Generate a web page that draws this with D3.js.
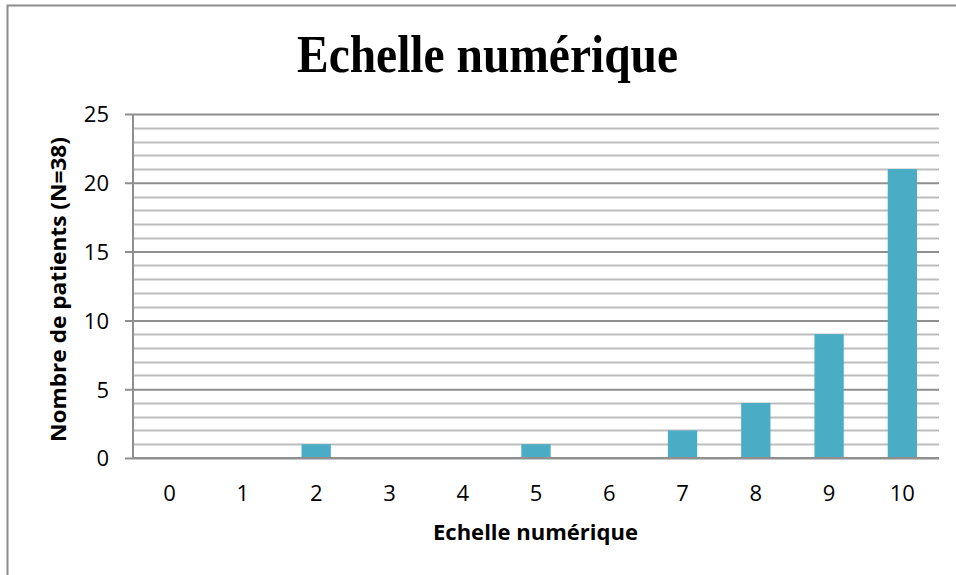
<!DOCTYPE html>
<html><head><meta charset="utf-8">
<script src="https://cdn.jsdelivr.net/npm/d3@7"></script>
<style>body{margin:0;background:#fff;} svg{display:block;}</style>
</head><body>
<svg id="chart" width="956" height="575"></svg>
<script>
const categories = ["0","1","2","3","4","5","6","7","8","9","10"];
const values = [0,0,1,0,0,1,0,2,4,9,21];
const yTicks = [0,5,10,15,20,25];
const title = "Echelle numérique";
const xTitle = "Echelle numérique";
const yTitle = "Nombre de patients (N=38)";

const svg = d3.select("#chart");
const W = 956, H = 575;
const m = {left:133, right:17, top:114, bottom:117};
const iw = W - m.left - m.right, ih = H - m.top - m.bottom;

// outer frame
svg.append("rect").attr("x",7.5).attr("y",5.5).attr("width",W+10).attr("height",H+10)
  .attr("fill","none").attr("stroke","#8c8c8c").attr("stroke-width",2);

const x = d3.scaleBand().domain(categories).range([m.left, m.left+iw]).paddingInner(0.6).paddingOuter(0.3);
const y = d3.scaleLinear().domain([0,25]).range([m.top+ih, m.top]);

// minor gridlines
const minor = d3.range(0,26,1).filter(v=>v%5!==0);
svg.append("g").selectAll("line").data(minor).join("line")
  .attr("x1",m.left).attr("x2",m.left+iw)
  .attr("y1",d=>Math.round(y(d))+0.5).attr("y2",d=>Math.round(y(d))+0.5)
  .attr("stroke","#bdbdbd").attr("stroke-width",2);

// major gridlines via axis
const yAxis = d3.axisLeft(y).tickValues(yTicks).tickSize(-iw).tickPadding(0).tickFormat(d3.format("d"));
const gy = svg.append("g").attr("transform",`translate(${m.left},0)`).call(yAxis);
gy.select(".domain").remove();
gy.selectAll(".tick line").attr("stroke","#8f8f8f").attr("stroke-width",2).attr("x2",-8).attr("x1",iw);
gy.selectAll(".tick text").attr("x",-24).attr("dy","0.36em")
  .attr("font-family","'Open Sans', sans-serif").attr("font-size",22).attr("fill","#000");

// y axis line
svg.append("line").attr("x1",m.left).attr("x2",m.left).attr("y1",m.top).attr("y2",m.top+ih)
  .attr("stroke","#8f8f8f").attr("stroke-width",2);

// bars
svg.append("g").selectAll("rect").data(values).join("rect")
  .attr("x",(d,i)=>x(categories[i]))
  .attr("width",x.bandwidth())
  .attr("y",d=>y(d))
  .attr("height",d=>y(0)-y(d))
  .attr("fill","#4bacc6");

// x axis
const xAxis = d3.axisBottom(x).tickSize(0).tickPadding(0);
const gx = svg.append("g").attr("transform",`translate(0,${m.top+ih})`).call(xAxis);
gx.select(".domain").remove();
gx.selectAll(".tick text").attr("y",43).attr("dy",0)
  .attr("font-family","'Open Sans', sans-serif").attr("font-size",22).attr("fill","#000");
svg.append("line").attr("x1",m.left).attr("x2",m.left+iw).attr("y1",y(0)).attr("y2",y(0))
  .attr("stroke","#8f8f8f").attr("stroke-width",2);

// titles
svg.append("text").attr("x",487.5).attr("y",72).attr("text-anchor","middle")
  .attr("font-family","'Liberation Serif','Times New Roman',serif").attr("font-weight","bold")
  .attr("font-size",52).attr("fill","#000").text(title)
  .attr("textLength",381).attr("lengthAdjust","spacingAndGlyphs");

svg.append("text").attr("x",535.5).attr("y",540).attr("text-anchor","middle")
  .attr("font-family","'Open Sans', sans-serif").attr("font-weight","bold")
  .attr("font-size",21).attr("fill","#000").text(xTitle)
  .attr("textLength",205).attr("lengthAdjust","spacingAndGlyphs");

svg.append("text").attr("transform","translate(66,289.5) rotate(-90)").attr("text-anchor","middle")
  .attr("font-family","'Open Sans', sans-serif").attr("font-weight","bold")
  .attr("font-size",21).attr("fill","#000").text(yTitle)
  .attr("textLength",305).attr("lengthAdjust","spacingAndGlyphs");
</script>
</body></html>
